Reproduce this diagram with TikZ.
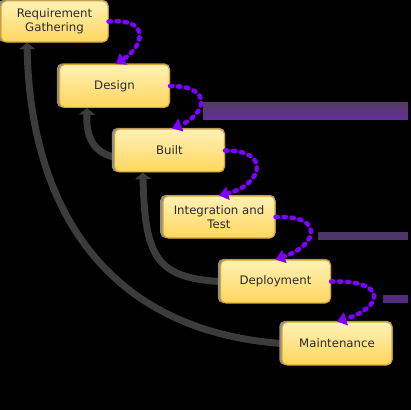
\documentclass[tikz,border=0pt]{standalone}
\usepackage{fontspec}
\setmainfont{DejaVu Sans}
\usetikzlibrary{arrows.meta,shadows,calc}
\definecolor{boxborder}{HTML}{D9A62E}
\definecolor{boxtop}{HTML}{FFF1B5}
\definecolor{boxbot}{HTML}{FFD65E}
\definecolor{textc}{HTML}{2B2B2B}
\definecolor{purp}{HTML}{7F00FF}
\definecolor{grayline}{HTML}{3C3C3C}
\definecolor{bandA}{HTML}{533C63}
\definecolor{bandB}{HTML}{652FA0}
\definecolor{bandC}{HTML}{4A3468}
\pgfdeclarelayer{bglayer}
\pgfdeclarelayer{background}
\pgfsetlayers{bglayer,background,main}
\tikzset{
  stagebox/.style={rounded corners=4pt, draw=boxborder, line width=0.8pt,
    top color=boxtop, bottom color=boxbot, minimum width=82.5pt, minimum height=32.2pt,
    font=\fontsize{8.8}{10.6}\selectfont, text=textc, align=center, inner sep=0pt,
    general shadow={fill=black!45, shadow xshift=-0.8pt, shadow yshift=0.4pt, shadow scale=1.03}},
  flowarrow/.style={purp, line width=3.4pt, line cap=round, dash pattern=on 1.8pt off 4.2pt,
    -{Triangle[width=10pt,length=7pt]}},
  backarrow/.style={grayline, line width=5.2pt, {Triangle[width=12pt,length=5pt]}-}
}
\begin{document}
\begin{tikzpicture}[x=0.75pt,y=-0.75pt]
\begin{pgfonlayer}{bglayer}
\fill[black] (0,0) rectangle (411,410);
\shade[top color=bandA, bottom color=bandB] (203,103) rectangle (408,120);
\fill[bandC] (318,232) rectangle (408,240);
\fill[bandC!85!purp] (383,295) rectangle (408,303);
\end{pgfonlayer}
\useasboundingbox (0,0) rectangle (411,410);

\node[stagebox, minimum width=80.3pt, minimum height=30.8pt] (req) at (54.5,21.5) {Requirement\\Gathering};
\node[stagebox] (design) at (114.5,86) {Design};
\node[stagebox] (built) at (169.5,150.5) {Built};
\node[stagebox, minimum width=84pt, minimum height=31.5pt] (integ) at (219,217) {Integration and\\Test};
\node[stagebox] (deploy) at (275.5,281.5) {Deployment};
\node[stagebox] (maint) at (337,343.5) {Maintenance};

\begin{pgfonlayer}{background}
\draw[backarrow] ([xshift=-20.6pt]design.south) .. controls (86,140) and (95,152) .. ([yshift=-5pt]built.west);
\draw[backarrow] ([xshift=-20pt]built.south) .. controls (145,255) and (155,278) .. (deploy.west);
\draw[backarrow] ([xshift=-20.6pt]req.south) .. controls (30,200) and (100,330) .. (maint.west);
\end{pgfonlayer}

\draw[flowarrow] (req.east) .. controls (150,18) and (145,45) .. ([xshift=1pt]design.north);
\draw[flowarrow] (design.east) .. controls (215,86) and (205,115) .. ([xshift=2pt]built.north);
\draw[flowarrow] (built.east) .. controls (272,150) and (262,185) .. (integ.north);
\draw[flowarrow] (integ.east) .. controls (325,215) and (318,245) .. (deploy.north);
\draw[flowarrow] (deploy.east) .. controls (390,280) and (382,308) .. (maint.north);
\end{tikzpicture}
\end{document}
